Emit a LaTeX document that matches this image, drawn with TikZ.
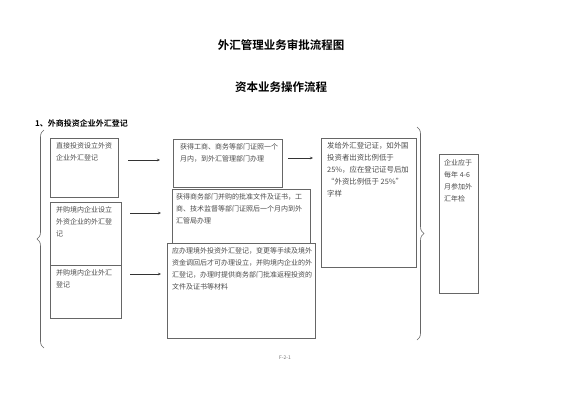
\documentclass[tikz,border=0pt]{standalone}
\usepackage{fontspec}
\newfontfamily\cjk{Noto Sans CJK SC}
\newfontfamily\cjkb{Noto Sans CJK SC Bold}
\usetikzlibrary{decorations.pathreplacing,arrows.meta}
\begin{document}
\begin{tikzpicture}[x=1pt,y=-1pt,
  frame/.style={draw=black!60,line width=0.6pt,fill=white,anchor=north west,inner sep=0pt},
  txt/.style={anchor=north west,inner sep=0pt,align=left,font=\cjk\fontsize{7}{12}\selectfont,text=black!70},
  arr/.style={draw=black!80,line width=0.6pt,-{Stealth[length=3pt,width=2.5pt]}},
  brc/.style={draw=black!60,line width=0.6pt,decorate,decoration={brace,amplitude=7pt}}]
\useasboundingbox (0,0) rectangle (565,400);
% titles
\node[font=\cjkb\fontsize{11.5}{12}\selectfont] (t1) at (281,45) {外汇管理业务审批流程图};
\node[font=\cjkb\fontsize{11.5}{12}\selectfont] (t2) at (281,87) {资本业务操作流程};
\node[anchor=west,inner sep=0pt,font=\cjkb\fontsize{8}{9}\selectfont] (h1) at (35,123) {1、外商投资企业外汇登记};
% left boxes
\node[frame,minimum width=68pt,minimum height=59pt] (b1) at (50,138) {};
\node[txt] at (56,142) {直接投资设立外资\\企业外汇登记};
\node[frame,minimum width=71pt,minimum height=64pt] (b2) at (50,202) {};
\node[txt] at (56,206) {并购境内企业设立\\外资企业的外汇登\\记};
\node[frame,minimum width=71pt,minimum height=53pt] (b3) at (50,265) {};
\node[txt] at (56,269) {并购境内企业外汇\\登记};
% middle boxes
\node[frame,minimum width=109pt,minimum height=48pt] (m1) at (173,139) {};
\node[txt] at (180,143) {获得工商、商务等部门证照一个\\月内，到外汇管理部门办理};
\node[frame,minimum width=138pt,minimum height=60pt] (m2) at (172,189) {};
\node[txt] at (176,193) {获得商务部门并购的批准文件及证书，工\\商、技术监督等部门证照后一个月内到外\\汇管局办理};
\node[frame,minimum width=148pt,minimum height=95pt] (m3) at (167,243) {};
\node[txt] at (172,247) {应办理境外投资外汇登记，变更等手续及境外\\资金调回后才可办理设立，并购境内企业的外\\汇登记，办理时提供商务部门批准返程投资的\\文件及证书等材料};
% right boxes
\node[frame,minimum width=95pt,minimum height=129pt] (d1) at (321,138) {};
\node[txt,font=\cjk\fontsize{7.4}{12}\selectfont] at (327,142) {发给外汇登记证，如外国\\投资者出资比例低于\\25\%，应在登记证号后加\\“外资比例低于 25\%”\\字样};
\node[frame,minimum width=39pt,minimum height=139pt] (e1) at (439,154) {};
\node[txt] at (444,159) {企业应于\\每年 4-6\\月参加外\\汇年检};
% arrows
\coordinate (s1) at (128,160);
\coordinate (s2) at (130,213);
\coordinate (s3) at (130,274);
\coordinate (s4) at (288,158);
\draw[arr,shorten >=13pt] (s1) -- (m1.west |- s1);
\draw[arr,shorten >=11pt] (s2) -- (m2.west |- s2);
\draw[arr,shorten >=6pt] (s3) -- (m3.west |- s3);
\draw[arr,shorten >=8pt] (s4) -- (d1.west |- s4);
% braces
\coordinate (lb1) at (44,348);
\coordinate (lb2) at (44,130);
\draw[brc] (lb1) -- (lb2);
\coordinate (rb1) at (417,127);
\coordinate (rb2) at (417,340);
\draw[brc] (rb1) -- (rb2);
% footer
\node[font=\cjk\fontsize{5}{6}\selectfont,text=black!55] (f) at (285,358) {F-2-1};
\end{tikzpicture}
\end{document}
